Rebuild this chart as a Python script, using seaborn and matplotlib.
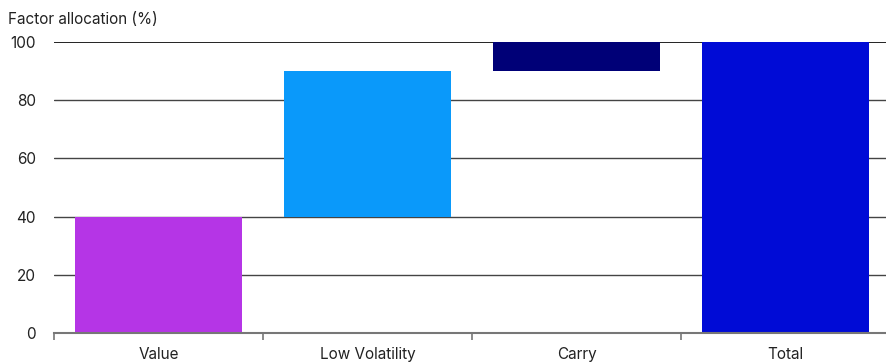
import matplotlib
matplotlib.use("Agg")
import matplotlib.pyplot as plt
import seaborn as sns
import pandas as pd

# Factor contributions to the total allocation (waterfall)
categories = ["Value", "Low Volatility", "Carry", "Total"]
bases = [0, 40, 90, 0]
heights = [40, 50, 10, 100]
colors = ["#b535e6", "#0a99fa", "#000077", "#000bd6"]
y_ticks = [0, 20, 40, 60, 80, 100]

sns.set_theme(style="white")
plt.rcParams["font.family"] = ["Inter", "DejaVu Sans"]

fig = plt.figure(figsize=(8.86, 3.63), dpi=100)
ax = fig.add_axes([54 / 886, 30 / 363, 836 / 886, 291 / 363])

# horizontal reference lines
for t in y_ticks[1:-1]:
    ax.axhline(t, color="#444444", lw=1.0, zorder=0)
ax.axhline(100, color="#111111", lw=1.3, zorder=0)

for cat, b, h, c in zip(categories, bases, heights, colors):
    df = pd.DataFrame({"factor": [cat], "value": [h]})
    sns.barplot(data=df, x="factor", y="value", order=categories, bottom=b,
                color=c, saturation=1, width=0.8, linewidth=0,
                edgecolor="none", ax=ax, zorder=2)

ax.set_xlim(-0.5, 3.5)
ax.set_ylim(0, 100)
ax.set_yticks(y_ticks)
ax.set_yticklabels([str(t) for t in y_ticks], fontsize=11, color="#222222")
ax.tick_params(axis="y", length=0, pad=13)

ax.set_xticks(range(len(categories)))
ax.set_xticklabels(categories, fontsize=11, color="#222222")
ax.set_xticks([i - 0.5 for i in range(len(categories) + 1)], minor=True)
ax.tick_params(axis="x", which="major", length=0, pad=10)
ax.tick_params(axis="x", which="minor", length=5, width=1.2, color="#777777",
               direction="out", bottom=True)

ax.set_xlabel("")
ax.set_ylabel("")
for side in ["top", "right", "left"]:
    ax.spines[side].set_visible(False)
ax.spines["bottom"].set_color("#777777")
ax.spines["bottom"].set_linewidth(1.5)
ax.spines["bottom"].set_zorder(3)

fig.text(8 / 886, 1 - 19 / 363, "Factor allocation (%)", fontsize=11,
         color="#222222", ha="left", va="center")

fig.savefig("out.png", dpi=100)
